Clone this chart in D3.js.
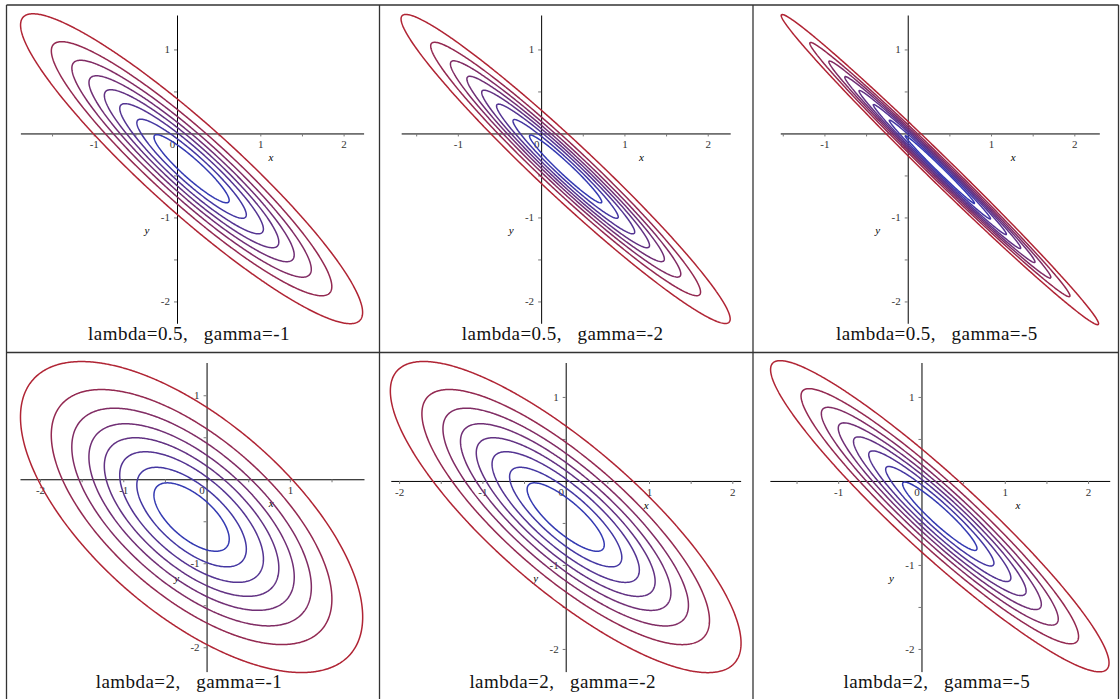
<!DOCTYPE html>
<html>
<head>
<meta charset="utf-8">
<script src="https://cdn.jsdelivr.net/npm/d3@7"></script>
<style>
  body { margin: 0; background: #fff; }
  svg text { font-family: "Liberation Serif", "Times New Roman", serif; }
</style>
</head>
<body>
<svg id="chart" width="1120" height="699"></svg>
<script>
// values, one entry per panel (top row then bottom row)
var lambdas = [0.5, 0.5, 0.5, 2, 2, 2];
var gammas = [-1, -2, -5, -1, -2, -5];

// view window of each plot
var xMins = [-1.88, -1.68, -1.53, -2.24, -2.10, -1.82];
var xMaxs = [2.24, 2.27, 2.30, 1.89, 2.10, 2.26];
var yMins = [-2.26, -2.26, -2.26, -2.29, -2.27, -2.27];
var yMaxs = [1.41, 1.41, 1.41, 1.39, 1.41, 1.41];

// labelled ticks
var xTicks = [[-1, 0, 1, 2], [-1, 0, 1, 2], [-1, 0, 1, 2], [-2, -1, 0, 1], [-2, -1, 0, 1, 2], [-1, 0, 1, 2]];
var yTicks = [1, -1, -2];

// outer contour of each panel: centre, half axes, tilt of the long axis (deg, going down-right)
var centreX = [0.175, 0.294, 0.386, -0.18, 0.0, 0.22];
var centreY = [-0.42, -0.423, -0.43, -0.45, -0.43, -0.42];
var semiMajor = [2.71, 2.68, 2.65, 2.51, 2.67, 2.71];
var semiMinor = [0.523, 0.325, 0.15, 1.16, 0.856, 0.463];
var tilt = [41.7, 42.9, 44.1, 40.4, 40.5, 42.2];

// contour levels, size relative to the outer contour (inner -> outer)
var levels = [0.22, 0.32, 0.42, 0.51, 0.60, 0.70, 0.82, 1.0];

// layout
const colCentres = [192, 565.7, 939.8];
const rowTops = [5, 352.5];
const kx = 83.3, ky = 84;
const innerColor = "rgb(52,58,178)", outerColor = "rgb(176,36,52)";

const svg = d3.select("#chart");

// table grid
const gridX = [6.5, 379.5, 753, 1118.5];
const gridY = [5, 352.5];
gridX.forEach(x => {
  svg.append("line").attr("x1", x).attr("x2", x).attr("y1", 5).attr("y2", 705)
    .attr("stroke", "#333").attr("stroke-width", 1.3);
});
gridY.forEach(y => {
  svg.append("line").attr("x1", 6.5).attr("x2", 1118.5).attr("y1", y).attr("y2", y)
    .attr("stroke", "#333").attr("stroke-width", 1.3);
});

const color = d3.scaleLinear().domain([levels[0], levels[levels.length - 1]]).range([innerColor, outerColor]).interpolate(d3.interpolateRgb);

function drawPanel(i) {
  const col = i % 3, row = Math.floor(i / 3);
  const w = (xMaxs[i] - xMins[i]) * kx;
  const h = (yMaxs[i] - yMins[i]) * ky;
  const left = colCentres[col] - w / 2;
  const top = rowTops[row] + 10;

  const x = d3.scaleLinear().domain([xMins[i], xMaxs[i]]).range([left, left + w]);
  const y = d3.scaleLinear().domain([yMins[i], yMaxs[i]]).range([top + h, top]);

  const g = svg.append("g");

  // x axis
  const xAll = xTicks[i].concat(d3.range(Math.ceil(xMins[i] * 2) / 2, xMaxs[i], 0.5).filter(v => !Number.isInteger(v)));
  const xAxis = g.append("g")
    .attr("transform", `translate(0,${y(0)})`)
    .call(d3.axisBottom(x).tickValues(xAll).tickSize(3).tickSizeOuter(0).tickPadding(4)
      .tickFormat(d => Number.isInteger(d) ? String(d) : ""));
  xAxis.selectAll("text").filter(d => d === 0).attr("dx", -5);

  // y axis
  const yAll = yTicks.concat(d3.range(Math.ceil(yMins[i] * 2) / 2, yMaxs[i], 0.5).filter(v => !Number.isInteger(v)));
  const yAxis = g.append("g")
    .attr("transform", `translate(${x(0)},0)`)
    .call(d3.axisLeft(y).tickValues(yAll).tickSize(3).tickSizeOuter(0).tickPadding(4)
      .tickFormat(d => Number.isInteger(d) ? String(d) : ""));

  [xAxis, yAxis].forEach(a => {
    a.attr("font-family", null).attr("font-size", null);
    a.select(".domain").attr("stroke", "#000").attr("stroke-width", 1);
    a.selectAll(".tick line").attr("stroke", "#777");
    a.selectAll("text").attr("fill", "#333").style("font-size", "11px");
  });

  // axis names
  g.append("text").attr("x", left + 0.73 * w).attr("y", y(0) + 28)
    .attr("text-anchor", "middle").style("font-style", "italic").style("font-size", "11px").text("x");
  g.append("text").attr("x", x(0) - 30).attr("y", top + 0.70 * h + 3)
    .attr("text-anchor", "middle").style("font-style", "italic").style("font-size", "11px").text("y");

  // sample the field on a 1px grid and let d3.contours trace the levels
  const step = 1 / kx;
  const gx0 = xMins[i] - 0.3, gy0 = yMaxs[i] + 0.3;
  const nx = Math.ceil((xMaxs[i] - xMins[i] + 0.6) / step);
  const ny = Math.ceil((yMaxs[i] - yMins[i] + 0.6) / step);
  const th = tilt[i] * Math.PI / 180, c = Math.cos(th), s = Math.sin(th);
  const a = semiMajor[i], b = semiMinor[i];
  const values = new Float64Array(nx * ny);
  for (let j = 0; j < ny; j++) {
    const dy = gy0 - j * step - centreY[i];
    for (let k = 0; k < nx; k++) {
      const dx = gx0 + k * step - centreX[i];
      const u = dx * c - dy * s, v = dx * s + dy * c;
      values[j * nx + k] = -Math.sqrt((u / a) * (u / a) + (v / b) * (v / b));
    }
  }
  // d3 sorts thresholds ascending, so the outer contour comes first
  const contours = d3.contours().size([nx, ny]).thresholds(levels.map(l => -l))(values);

  const path = d3.geoPath(d3.geoTransform({
    point: function(px, py) {
      this.stream.point(x(gx0 + (px - 0.5) * step), y(gy0 - (py - 0.5) * step));
    }
  }));

  contours.forEach(cn => {
    g.append("path")
      .attr("d", path(cn))
      .attr("fill", "none")
      .attr("stroke", color(-cn.value))
      .attr("stroke-width", 1.5)
      .attr("stroke-linejoin", "round");
  });

  // caption
  g.append("text")
    .attr("x", colCentres[col] - 3)
    .attr("y", rowTops[row] + 335)
    .attr("text-anchor", "middle")
    .attr("xml:space", "preserve")
    .style("white-space", "pre")
    .style("font-size", "19px")
    .style("letter-spacing", "0.45px")
    .attr("fill", "#111")
    .text("lambda=" + lambdas[i] + ",   gamma=" + gammas[i]);
}

d3.range(6).forEach(drawPanel);
</script>
</body>
</html>
